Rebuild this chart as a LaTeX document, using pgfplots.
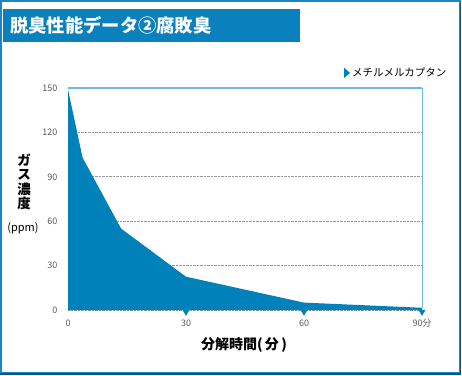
\documentclass[border=0pt]{standalone}
\usepackage{pgfplots}
\pgfplotsset{compat=1.18}
\usepackage{fontspec}
\setmainfont{Noto Sans CJK JP}
\definecolor{mainblue}{RGB}{0,129,185}
\definecolor{barblue}{RGB}{10,128,188}
\definecolor{lightblue}{RGB}{110,185,222}
\definecolor{framecol}{RGB}{25,135,195}
\definecolor{shadowcol}{RGB}{15,85,125}
\definecolor{ticktext}{RGB}{90,90,90}
\begin{document}
\begin{tikzpicture}[x=1pt,y=1pt]
\useasboundingbox (0pt,0pt) rectangle (462pt,375pt);
% outer frame
\fill[white] (0pt,0pt) rectangle (462pt,375pt);
\draw[framecol, line width=2pt] (1pt,2pt) rectangle (460pt,374pt);
\draw[shadowcol, line width=2.5pt] (0pt,1.25pt) -- (461pt,1.25pt);
\draw[shadowcol, line width=1.5pt] (460.5pt,1pt) -- (460.5pt,372pt);
% title bar
\fill[barblue] (3pt,333pt) rectangle (300pt,366pt);
\node[anchor=west, text=white, font=\fontsize{18.3}{20}\selectfont\bfseries, inner sep=0] at (10pt,349.5pt) {脱臭性能データ②腐敗臭};
\begin{axis}[
  at={(68pt,65pt)}, anchor=south west,
  scale only axis, width=354pt, height=222pt,
  xmin=0, xmax=90, ymin=0, ymax=150,
  xtick={0,30,60,90}, xticklabels={0,30,60,90分},
  ytick={0,30,60,90,120,150},
  major tick length=0pt,
  axis line style={draw=none},
  ymajorgrids, grid style={densely dotted, gray!80, line width=0.7pt},
  tick label style={font=\fontsize{9}{10}\selectfont, text=ticktext},
  yticklabel style={anchor=east, xshift=-7pt},
  xticklabel style={anchor=north, yshift=-6pt},
  /pgf/number format/assume math mode=true,
  clip=false,
  legend style={at={(1.075,1.068)}, anchor=east, draw=none, fill=none,
    font=\fontsize{10.5}{12}\selectfont, inner sep=0pt,
    legend cell align=left},
]
\addplot[fill=mainblue, draw=none,
  legend image code/.code={\fill[mainblue] (0pt,-5pt) -- (6pt,0pt) -- (0pt,5pt) -- cycle;}]
  coordinates {(0,149) (3.7,103) (13.5,55) (30,22.5) (60,5) (90,1.5)} \closedcycle;
\addlegendentry{メチルメルカプタン}
\addplot[only marks, mark=triangle*, mark size=3.6pt,
  mark options={yshift=-1.8pt, rotate=180, fill=mainblue, draw=mainblue}, forget plot]
  coordinates {(30,0) (60,0) (90,0)};
\draw[lightblue, line width=2pt] (axis cs:0,150) -- (axis cs:90,150);
\draw[lightblue, line width=0.8pt] (axis cs:90,150) -- (axis cs:90,1.5);
\draw[lightblue, line width=0.8pt] (axis cs:0,150) -- (axis cs:0,149);
\end{axis}
\node[font=\fontsize{13.5}{14.5}\selectfont\bfseries, align=center, inner sep=0] at (24pt,193pt) {ガ\\ス\\濃\\度};
\node[font=\fontsize{11}{12}\selectfont, inner sep=0] at (23pt,147pt) {(ppm)};
\node[font=\fontsize{14}{16}\selectfont\bfseries, inner sep=0] at (244pt,30pt) {分解時間(\,分\,)};
\end{tikzpicture}
\end{document}
